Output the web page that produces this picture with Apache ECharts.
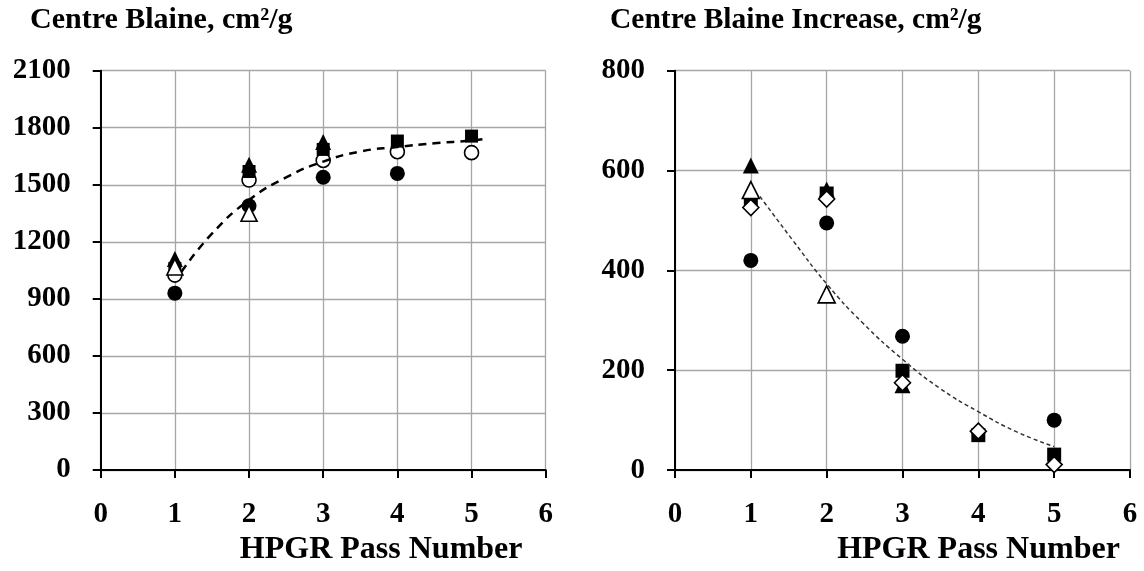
<!DOCTYPE html>
<html><head><meta charset="utf-8">
<script src="https://cdn.jsdelivr.net/npm/echarts@6/dist/echarts.min.js"></script>
<style>html,body{margin:0;padding:0;background:#fff}#c{width:1144px;height:571px}</style>
</head><body><div id="c"></div>
<script>
// ---- Left chart: Centre Blaine (cm²/g) vs HPGR pass number ----
const leftFilledCircle = [[1, 930], [2, 1390], [3, 1540], [4, 1560]];
const leftFilledTriangle = [[1, 1110], [2, 1605], [3, 1725]];
const leftOpenCircle = [[1, 1025], [2, 1525], [3, 1628], [4, 1674], [5, 1669]];
const leftFilledSquare = [[1, 1060], [2, 1570], [3, 1686], [4, 1730], [5, 1756]];
const leftOpenTriangle = [[1, 1068], [2, 1350]];
const leftTrend = [[1.09, 1043], [1.5, 1243], [2, 1420], [2.5, 1539], [3, 1622], [3.5, 1675], [4, 1699], [4.5, 1718], [5, 1733], [5.2, 1742]];

// ---- Right chart: Centre Blaine Increase (cm²/g) ----
const rightFilledCircle = [[1, 420], [2, 495], [3, 268], [5, 100]];
const rightFilledTriangle = [[1, 610], [2, 562], [3, 170]];
const rightFilledSquare = [[1, 538], [2, 554], [3, 199], [4, 70], [5, 31]];
const rightOpenTriangle = [[1, 561], [2, 352]];
const rightOpenDiamond = [[1, 526], [2, 543], [3, 175], [4, 78], [5, 11]];
const rightTrend = [[1.12, 548], [1.56, 459], [2, 373], [2.48, 294], [3, 222], [3.5, 163], [4, 117], [4.5, 77], [5, 47]];

const xTicks = [0, 1, 2, 3, 4, 5, 6];
const leftTitle = 'Centre Blaine, cm²/g';
const rightTitle = 'Centre Blaine Increase, cm²/g';
const xName = 'HPGR Pass Number';

const FONT = '"Liberation Serif", "DejaVu Serif", serif';
const chart = echarts.init(document.getElementById('c'), null, {renderer: 'canvas'});

function xAxis(gi, shift, gap) {
  return {
    gridIndex: gi, type: 'value', min: xTicks[0], max: xTicks[xTicks.length - 1], interval: 1,
    axisLine: {onZero: false, lineStyle: {color: '#000', width: 2}},
    axisTick: {show: true, length: 8, lineStyle: {color: '#000', width: 2}},
    axisLabel: {color: '#000', fontFamily: FONT, fontWeight: 'bold', fontSize: 29, margin: 30,
                formatter: v => String(v)},
    splitLine: {show: true, lineStyle: {color: '#a6a6a6', width: 1.3}},
    name: xName, nameLocation: 'middle', nameGap: gap,
    nameTextStyle: {color: '#000', fontFamily: FONT, fontWeight: 'bold', fontSize: 32, padding: [0, 0, 0, shift * 2]}
  };
}
function yAxis(gi, max, interval) {
  return {
    gridIndex: gi, type: 'value', min: 0, max: max, interval: interval,
    axisLine: {show: true, lineStyle: {color: '#000', width: 2}},
    axisTick: {show: true, length: 8, lineStyle: {color: '#000', width: 2}},
    axisLabel: {color: '#000', fontFamily: FONT, fontWeight: 'bold', fontSize: 29, margin: 30,
                formatter: v => String(v)},
    splitLine: {show: true, lineStyle: {color: '#a6a6a6', width: 1.3}}
  };
}
function sc(gi, data, symbol, size, filled, z) {
  return {
    type: 'scatter', xAxisIndex: gi, yAxisIndex: gi, data: data, symbol: symbol, symbolSize: size, z: z,
    itemStyle: filled ? {color: '#000', borderColor: '#000', borderWidth: 0, opacity: 1}
                      : {color: '#fff', borderColor: '#000', borderWidth: 1.6, opacity: 1}
  };
}

chart.setOption({
  animation: false,
  backgroundColor: '#fff',
  title: [
    {text: leftTitle, left: 30, top: 5, padding: 0, textStyle: {color: '#000', fontFamily: FONT, fontWeight: 'bold', fontSize: 30}},
    {text: rightTitle, left: 610, top: 5, padding: 0, textStyle: {color: '#000', fontFamily: FONT, fontWeight: 'bold', fontSize: 29.5}}
  ],
  grid: [
    {left: 100.7, top: 70.7, width: 445, height: 402.6},
    {left: 675, top: 70.7, width: 455, height: 405}
  ],
  xAxis: [xAxis(0, 58, 64), xAxis(1, 76, 59)],
  yAxis: [yAxis(0, 2100, 300), yAxis(1, 800, 200)],
  series: [
    sc(0, leftFilledCircle, 'circle', 15, true, 2),
    sc(0, leftFilledTriangle, 'triangle', 16, true, 3),
    sc(0, leftOpenCircle, 'circle', 14, false, 4),
    sc(0, leftFilledSquare, 'rect', 13, true, 5),
    sc(0, leftOpenTriangle, 'triangle', 16, false, 6),
    {type: 'line', xAxisIndex: 0, yAxisIndex: 0, data: leftTrend, smooth: true, symbol: 'none', z: 10,
     lineStyle: {color: '#000', width: 2.5, type: [8, 6]}},

    sc(1, rightFilledCircle, 'circle', 15, true, 2),
    sc(1, rightFilledTriangle, 'triangle', 16, true, 3),
    sc(1, rightFilledSquare, 'rect', 14, true, 4),
    sc(1, rightOpenTriangle, 'triangle', 17, false, 5),
    sc(1, rightOpenDiamond, 'diamond', 16, false, 6),
    {type: 'line', xAxisIndex: 1, yAxisIndex: 1, data: rightTrend, smooth: true, symbol: 'none', z: 10,
     lineStyle: {color: '#333', width: 1.5, type: [4, 3]}}
  ]
});
</script></body></html>
